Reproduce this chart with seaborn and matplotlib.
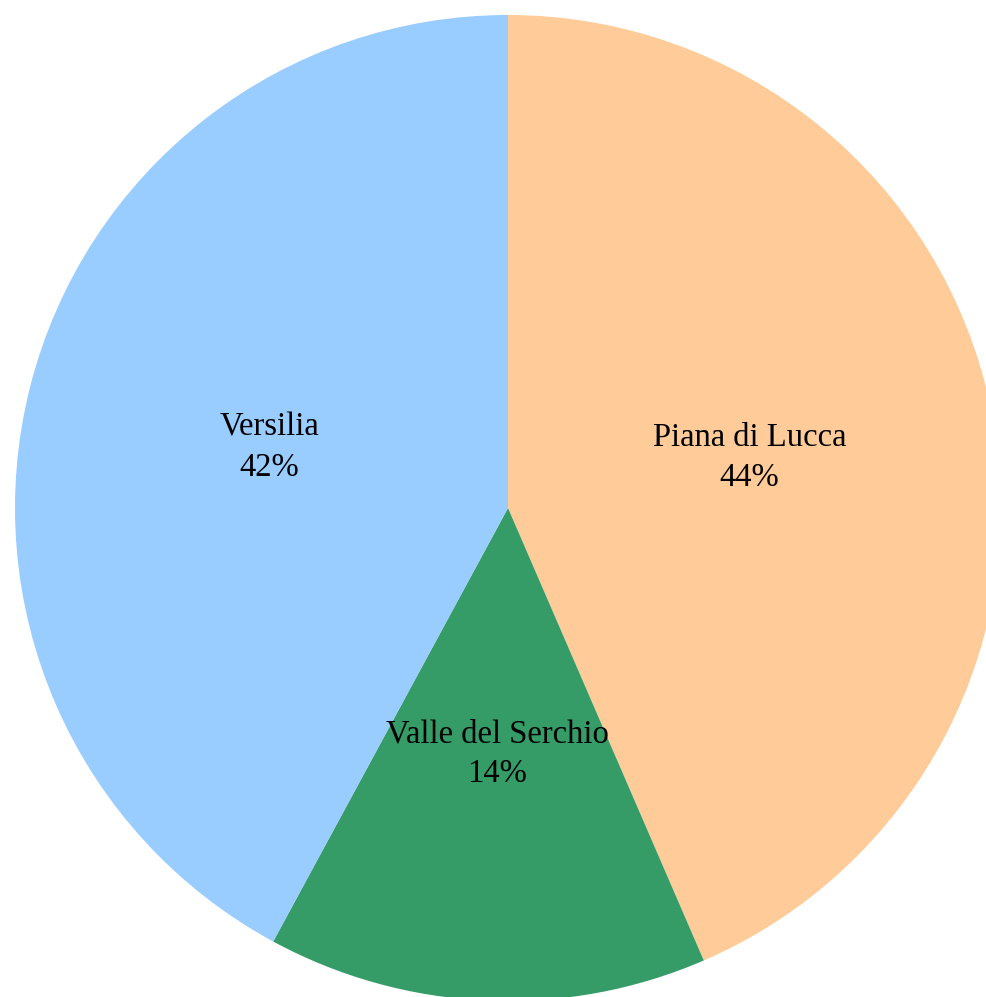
import matplotlib
matplotlib.use("Agg")
import matplotlib.pyplot as plt
import seaborn as sns

categories = ["Piana di Lucca", "Valle del Serchio", "Versilia"]
values = [43.5, 14.4, 42.1]
colors = ["#FFCB99", "#359B67", "#99CCFF"]

sns.set_theme(style="white")
plt.rcParams['font.family'] = ['Liberation Serif', 'DejaVu Serif']

W, H, DPI = 986, 997, 100
fig = plt.figure(figsize=(W / DPI, H / DPI), dpi=DPI)
ax = fig.add_axes([0, 0, 1, 1])

cx, cy, R = 508, 508, 493

it = iter(categories)
def fmt(p):
    return f"{next(it)}\n{p:.0f}%"

ax.pie(values, colors=colors, startangle=90, counterclock=False,
       autopct=fmt, pctdistance=0.5, radius=1,
       wedgeprops=dict(linewidth=0),
       textprops=dict(fontsize=23.5, color="black", linespacing=1.4))

ax.set_xlim(-cx / R, (W - cx) / R)
ax.set_ylim(-(H - cy) / R, cy / R)
ax.set_aspect('auto')
ax.axis('off')

fig.savefig("out.png", dpi=DPI, facecolor="white")
